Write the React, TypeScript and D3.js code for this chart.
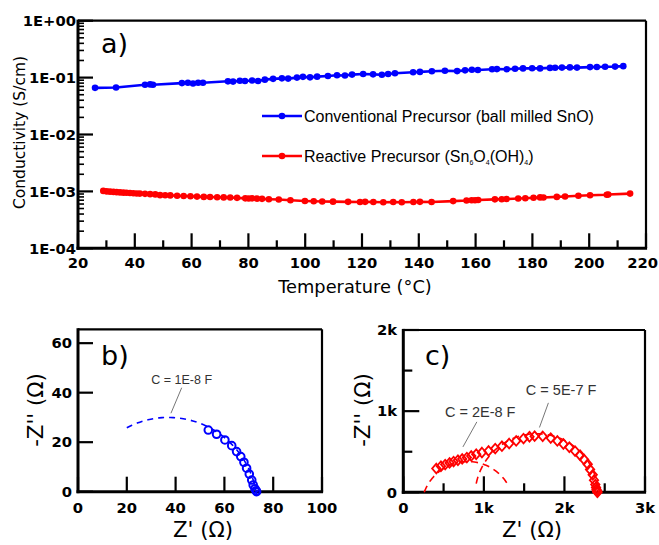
import React from 'react';
import * as d3 from 'd3';

// ---------- Panel a data ----------
const tempTicks = [20, 40, 60, 80, 100, 120, 140, 160, 180, 200, 220];
const tempMinor = [30, 50, 70, 90, 110, 130, 150, 170, 190, 210];
const condTicks = [1e-4, 1e-3, 1e-2, 1e-1, 1];
const condLabels = ['1E-04', '1E-03', '1E-02', '1E-01', '1E+00'];

const blueTemp = [26, 33.4, 43.6, 45.4, 46.4, 56.6, 58.7, 60.5, 62.3, 64, 72.8, 74.6, 77, 78.8, 81.3, 83.4, 85.8, 88.7, 91.8, 94, 97.1, 99.2, 101.7, 104.2, 108, 111.2, 114, 116.5, 120.4, 123.9, 127, 129.2, 131.6, 138, 140.4, 144.6, 149.2, 153.5, 156.3, 158.7, 160.8, 165.8, 167.5, 171, 173.9, 176.7, 179.9, 182.7, 186.2, 188, 190.4, 193.2, 195.7, 200.3, 202.7, 205.6, 209.1, 212];
const blueCond = [0.066, 0.067, 0.075, 0.076, 0.075, 0.080, 0.081, 0.079, 0.081, 0.081, 0.086, 0.085, 0.088, 0.087, 0.089, 0.087, 0.092, 0.095, 0.097, 0.096, 0.100, 0.103, 0.101, 0.104, 0.107, 0.110, 0.109, 0.113, 0.116, 0.114, 0.112, 0.116, 0.119, 0.124, 0.126, 0.129, 0.132, 0.130, 0.134, 0.137, 0.136, 0.140, 0.141, 0.140, 0.143, 0.145, 0.146, 0.145, 0.148, 0.149, 0.150, 0.151, 0.150, 0.153, 0.154, 0.155, 0.156, 0.159];

const redTemp = [28.9, 30.1, 31.3, 32.5, 33.6, 34.8, 36, 37.1, 38.3, 39.5, 40.7, 41.8, 43.6, 45.4, 47.2, 48.9, 50.7, 52.5, 54.9, 57.2, 59.6, 61.9, 64.3, 66.5, 69, 71.3, 73.6, 76, 78.9, 80.1, 81.3, 83, 84.8, 87.2, 90.7, 94.8, 99.9, 103, 106, 109.8, 115.1, 119.3, 121.1, 124, 127.5, 131, 134, 138.1, 140.4, 144.5, 152.1, 156.8, 158.6, 159.8, 160.9, 166.8, 169.2, 170.9, 175, 177.5, 180.4, 182.7, 183.9, 188.6, 191.5, 196.2, 200.3, 206.2, 206.7, 214.4];
const redCond = [1.02e-3, 1.0e-3, 0.99e-3, 0.98e-3, 0.97e-3, 0.96e-3, 0.95e-3, 0.945e-3, 0.94e-3, 0.93e-3, 0.92e-3, 0.915e-3, 0.905e-3, 0.895e-3, 0.885e-3, 0.86e-3, 0.855e-3, 0.85e-3, 0.84e-3, 0.83e-3, 0.82e-3, 0.81e-3, 0.80e-3, 0.795e-3, 0.79e-3, 0.785e-3, 0.78e-3, 0.77e-3, 0.755e-3, 0.75e-3, 0.755e-3, 0.745e-3, 0.74e-3, 0.73e-3, 0.72e-3, 0.70e-3, 0.68e-3, 0.67e-3, 0.665e-3, 0.66e-3, 0.655e-3, 0.65e-3, 0.655e-3, 0.65e-3, 0.645e-3, 0.65e-3, 0.645e-3, 0.65e-3, 0.655e-3, 0.65e-3, 0.675e-3, 0.69e-3, 0.70e-3, 0.70e-3, 0.705e-3, 0.725e-3, 0.73e-3, 0.735e-3, 0.75e-3, 0.76e-3, 0.775e-3, 0.785e-3, 0.78e-3, 0.80e-3, 0.815e-3, 0.84e-3, 0.855e-3, 0.875e-3, 0.88e-3, 0.915e-3];

const legendBlue = 'Conventional Precursor (ball milled SnO)';
const legendRedParts = ['Reactive Precursor (Sn', '6', 'O', '4', '(OH)', '4', ')'];

// ---------- Panel b data ----------
const bTicksX = [0, 20, 40, 60, 80, 100];
const bTicksY = [0, 20, 40, 60];
const bZre = [53.4, 56.8, 60.2, 63.0, 65.0, 66.7, 68.0, 69.1, 70.2, 71.2, 71.8, 72.5, 73.0, 73.2];
const bZim = [24.9, 23.2, 20.9, 18.6, 16.2, 14.2, 11.9, 9.5, 7.1, 4.7, 2.7, 1.2, 0.4, 0];
// fitted arc: [centre Z', centre Z'', radius, start Z', end Z']
const bFit = [[37, -6.6, 36.6, 20, 73.2]];
const bNote = ['C = 1E-8 F'];

// ---------- Panel c data ----------
const cTicksX = [0, 1000, 2000, 3000];
const cLabelsX = ['0', '1k', '2k', '3k'];
const cMinorX = [500, 1500, 2500];
const cTicksY = [0, 1000, 2000];
const cLabelsY = ['0', '1k', '2k'];
const cMinorY = [500, 1500];
const cZre = [410, 467, 520, 574, 624, 678, 731, 789, 843, 905, 976, 1058, 1141, 1224, 1314, 1401, 1492, 1566, 1630, 1730, 1830, 1912, 1987, 2061, 2132, 2194, 2243, 2289, 2318, 2351, 2367, 2383, 2392, 2398, 2403, 2407, 2410];
const cZim = [293, 321, 342, 362, 379, 395, 411, 428, 448, 469, 490, 510, 539, 568, 601, 633, 662, 685, 692, 690, 668, 633, 595, 555, 508, 457, 404, 346, 281, 215, 150, 95, 60, 35, 18, 6, 0];
const cFit = [[801, -197, 576, 260, 1300], [1656, -44, 766, 905, 2420]];
const cNotes = ['C = 2E-8 F', 'C = 5E-7 F'];

const BLUE = '#0000ff';
const RED = '#ff0000';
const SANS = 'DejaVu Sans, Verdana, sans-serif';
const ARIAL = 'Liberation Sans, Arial, sans-serif';

function arcPoints(p: number[]) {
  const [xc, yc, r, x0, x1] = p;
  const a0 = Math.acos(Math.max(-1, Math.min(1, (x0 - xc) / r)));
  const a1 = Math.acos(Math.max(-1, Math.min(1, (x1 - xc) / r)));
  return d3.range(0, 61).map((i) => {
    const a = a0 + (a1 - a0) * (i / 60);
    return [xc + r * Math.cos(a), yc + r * Math.sin(a)] as [number, number];
  });
}

export default function App() {
  // scales
  const xA = d3.scaleLinear().domain([20, 220]).range([78, 646]);
  const yA = d3.scaleLog().domain([1e-4, 1]).range([248.3, 20.7]);
  const xB = d3.scaleLinear().domain([0, 100]).range([78, 322]);
  const yB = d3.scaleLinear().domain([0, 65.6]).range([491.7, 329.3]);
  const xC = d3.scaleLinear().domain([0, 3000]).range([403.3, 645]);
  const yC = d3.scaleLinear().domain([0, 2000]).range([492.3, 330]);

  const blueLine = d3.line<number>().x((_, i) => xA(blueTemp[i])).y((d) => yA(d))(blueCond) || '';
  const redLine = d3.line<number>().x((_, i) => xA(redTemp[i])).y((d) => yA(d))(redCond) || '';

  const logMinor: number[] = [];
  for (let e = -4; e < 0; e++) for (let m = 2; m <= 9; m++) logMinor.push(m * Math.pow(10, e));

  const bArc = d3.line<[number, number]>().x((d) => xB(d[0])).y((d) => yB(d[1]));
  const cArc = d3.line<[number, number]>().x((d) => xC(d[0])).y((d) => yC(d[1]));

  const tickStroke = 2.2;
  const frame = (x0: number, x1: number, y0: number, y1: number) => (
    <g>
      <line x1={x0} y1={y0} x2={x1} y2={y0} stroke="#000" strokeWidth={2.2} />
      <line x1={x1} y1={y0} x2={x1} y2={y1} stroke="#000" strokeWidth={2.2} />
      <line x1={x0} y1={y0 - 1.1} x2={x0} y2={y1 + 1.5} stroke="#000" strokeWidth={3} />
      <line x1={x0 - 1.5} y1={y1} x2={x1 + 1.1} y2={y1} stroke="#000" strokeWidth={3} />
    </g>
  );

  const diamond = 'M0,-4.8L4.2,0L0,4.8L-4.2,0Z';

  return (
    <svg width={659} height={545} style={{ position: 'absolute', left: 0, top: 0, background: '#fff' }}>
      <rect width={659} height={545} fill="#fff" />

      {/* ================= Panel a ================= */}
      {tempTicks.map((t) => (
        <line key={'ta' + t} x1={xA(t)} x2={xA(t)} y1={yA(1e-4)} y2={yA(1e-4) - 15} stroke="#000" strokeWidth={tickStroke} />
      ))}
      {tempMinor.map((t) => (
        <line key={'tm' + t} x1={xA(t)} x2={xA(t)} y1={yA(1e-4)} y2={yA(1e-4) - 8} stroke="#000" strokeWidth={tickStroke} />
      ))}
      {condTicks.map((c) => (
        <line key={'ca' + c} x1={xA(20)} x2={xA(20) + 15} y1={yA(c)} y2={yA(c)} stroke="#000" strokeWidth={tickStroke} />
      ))}
      {logMinor.map((c) => (
        <line key={'cm' + c} x1={xA(20)} x2={xA(20) + 6} y1={yA(c)} y2={yA(c)} stroke="#000" strokeWidth={1.6} />
      ))}
      {frame(xA(20), xA(220), yA(1), yA(1e-4))}

      {tempTicks.map((t, i) => {
        const last = i === tempTicks.length - 1;
        return (
          <text key={'tl' + t} x={last ? 658 : xA(t)} y={268} textAnchor={last ? 'end' : 'middle'} fontFamily={SANS} fontWeight="bold" fontSize={14.75}>{t}</text>
        );
      })}
      {condTicks.map((c, i) => (
        <text key={'cl' + c} x={76} y={yA(c) + 5.3} textAnchor="end" fontFamily={SANS} fontWeight="bold" fontSize={14.75}>{condLabels[i]}</text>
      ))}
      <text x={355} y={293} textAnchor="middle" fontFamily={SANS} fontSize={17.8}>Temperature (°C)</text>
      <text transform={`translate(25,${132.5}) rotate(-90)`} textAnchor="middle" fontFamily={SANS} fontSize={15.5}>Conductivity (S/cm)</text>
      <text x={101} y={53} fontFamily={SANS} fontSize={27}>a)</text>

      {/* series */}
      <path d={blueLine} fill="none" stroke={BLUE} strokeWidth={2.6} />
      {blueCond.map((v, i) => (
        <circle key={'bp' + i} cx={xA(blueTemp[i])} cy={yA(v)} r={3.3} fill={BLUE} />
      ))}
      <path d={redLine} fill="none" stroke={RED} strokeWidth={2.6} />
      {redCond.map((v, i) => (
        <circle key={'rp' + i} cx={xA(redTemp[i])} cy={yA(v)} r={3.3} fill={RED} />
      ))}

      {/* legend */}
      <line x1={262} x2={302} y1={116} y2={116} stroke={BLUE} strokeWidth={2.6} />
      <circle cx={282} cy={116} r={3.3} fill={BLUE} />
      <text x={304} y={122} fontFamily={ARIAL} fontSize={16}>{legendBlue}</text>
      <line x1={262} x2={302} y1={156} y2={156} stroke={RED} strokeWidth={2.6} />
      <circle cx={282} cy={156} r={3.3} fill={RED} />
      <text x={304} y={162} fontFamily={ARIAL} fontSize={16}>
        {legendRedParts.map((p, i) =>
          i % 2 === 1 ? (
            <tspan key={i} fontSize={7} dy={3}>{p}</tspan>
          ) : (
            <tspan key={i} dy={i === 0 ? 0 : -3}>{p}</tspan>
          )
        )}
      </text>

      {/* ================= Panel b ================= */}
      {bTicksX.map((t) => (
        <line key={'bx' + t} x1={xB(t)} x2={xB(t)} y1={yB(0)} y2={yB(0) - 15} stroke="#000" strokeWidth={tickStroke} />
      ))}
      {bTicksY.map((t) => (
        <line key={'by' + t} x1={xB(0)} x2={xB(0) + 15} y1={yB(t)} y2={yB(t)} stroke="#000" strokeWidth={tickStroke} />
      ))}
      {frame(xB(0), xB(100), yB(65.6), yB(0))}
      {bTicksX.map((t) => (
        <text key={'bxl' + t} x={xB(t)} y={513} textAnchor="middle" fontFamily={SANS} fontWeight="bold" fontSize={14.75}>{t}</text>
      ))}
      {bTicksY.map((t) => (
        <text key={'byl' + t} x={72} y={yB(t) + 5.3} textAnchor="end" fontFamily={SANS} fontWeight="bold" fontSize={14.75}>{t}</text>
      ))}
      <text x={203} y={537} textAnchor="middle" fontFamily={SANS} fontSize={21.3}>Z' (Ω)</text>
      <text transform={`translate(43,410) rotate(-90)`} textAnchor="middle" fontFamily={SANS} fontSize={21.3}>-Z'' (Ω)</text>
      <text x={101} y={365} fontFamily={SANS} fontSize={27}>b)</text>

      {bFit.map((p, i) => (
        <path key={'bf' + i} d={bArc(arcPoints(p)) || ''} fill="none" stroke={BLUE} strokeWidth={1.6} strokeDasharray="6,5" />
      ))}
      {bZim.map((v, i) => (
        <circle key={'bc' + i} cx={xB(bZre[i])} cy={yB(v)} r={3.8} fill="none" stroke={BLUE} strokeWidth={2} />
      ))}
      <text x={xB(42.5)} y={yB(43.5)} textAnchor="middle" fontFamily={ARIAL} fontSize={12.5} fill="#333">{bNote[0]}</text>
      <line x1={xB(42.5)} y1={yB(42)} x2={xB(38.1)} y2={yB(31.7)} stroke="#666" strokeWidth={0.9} />

      {/* ================= Panel c ================= */}
      {cTicksX.map((t) => (
        <line key={'cx' + t} x1={xC(t)} x2={xC(t)} y1={yC(0)} y2={yC(0) - 16} stroke="#000" strokeWidth={tickStroke} />
      ))}
      {cMinorX.map((t) => (
        <line key={'cmx' + t} x1={xC(t)} x2={xC(t)} y1={yC(0)} y2={yC(0) - 9} stroke="#000" strokeWidth={tickStroke} />
      ))}
      {cTicksY.map((t) => (
        <line key={'cy' + t} x1={xC(0)} x2={xC(0) + 16} y1={yC(t)} y2={yC(t)} stroke="#000" strokeWidth={tickStroke} />
      ))}
      {cMinorY.map((t) => (
        <line key={'cmy' + t} x1={xC(0)} x2={xC(0) + 9} y1={yC(t)} y2={yC(t)} stroke="#000" strokeWidth={tickStroke} />
      ))}
      {frame(xC(0), xC(3000), yC(2000), yC(0))}
      {cTicksX.map((t, i) => (
        <text key={'cxl' + t} x={xC(t)} y={513} textAnchor="middle" fontFamily={SANS} fontWeight="bold" fontSize={14.75}>{cLabelsX[i]}</text>
      ))}
      {cTicksY.map((t, i) => (
        <text key={'cyl' + t} x={397} y={yC(t) + 5.3} textAnchor="end" fontFamily={SANS} fontWeight="bold" fontSize={14.75}>{cLabelsY[i]}</text>
      ))}
      <text x={532} y={537} textAnchor="middle" fontFamily={SANS} fontSize={21.3}>Z' (Ω)</text>
      <text transform={`translate(370,410) rotate(-90)`} textAnchor="middle" fontFamily={SANS} fontSize={21.3}>-Z'' (Ω)</text>
      <text x={425} y={365} fontFamily={SANS} fontSize={27}>c)</text>

      {cFit.map((p, i) => (
        <path key={'cf' + i} d={cArc(arcPoints(p)) || ''} fill="none" stroke={RED} strokeWidth={1.6} strokeDasharray="7,5" />
      ))}
      {cZim.map((v, i) => (
        <path key={'cd' + i} d={diamond} transform={`translate(${xC(cZre[i])},${yC(v)})`} fill="none" stroke={RED} strokeWidth={1.8} />
      ))}
      <text x={xC(955)} y={yC(926)} textAnchor="middle" fontFamily={ARIAL} fontSize={14.5} fill="#333">{cNotes[0]}</text>
      <line x1={xC(913)} y1={yC(868)} x2={xC(740)} y2={yC(559)} stroke="#666" strokeWidth={0.9} />
      <text x={xC(1959)} y={yC(1198)} textAnchor="middle" fontFamily={ARIAL} fontSize={14.5} fill="#333">{cNotes[1]}</text>
      <line x1={xC(1801)} y1={yC(1102)} x2={xC(1690)} y2={yC(799)} stroke="#666" strokeWidth={0.9} />
    </svg>
  );
}
